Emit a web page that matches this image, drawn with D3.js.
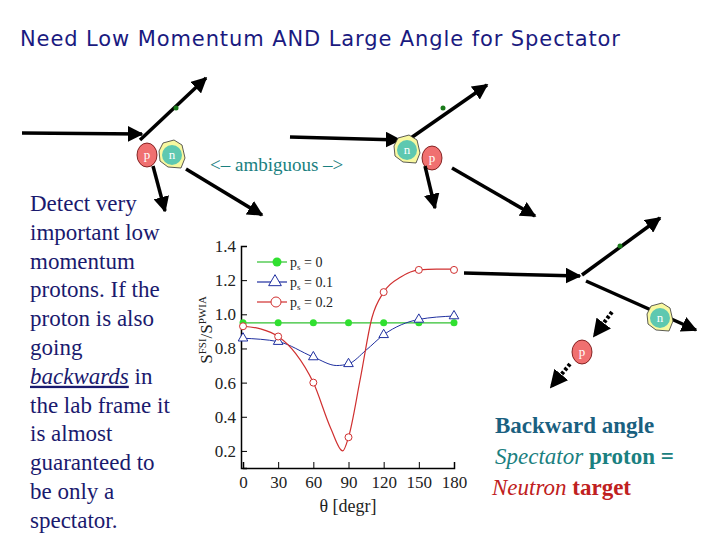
<!DOCTYPE html><html><head><meta charset="utf-8"><script src="https://cdn.jsdelivr.net/npm/d3@7"></script>
<style>body{margin:0;background:#fff} .sf{font-family:'Liberation Serif','Times New Roman',serif !important}</style></head><body><svg id="s" width="720" height="540"></svg><script>
const thetaTicks=[0,30,60,90,120,150,180];
const yTicks=[0.2,0.4,0.6,0.8,1.0,1.2,1.4];
const markTheta=[0,30,60,90,120,150,180];
const green=[0.95,0.95,0.95,0.95,0.95,0.95,0.95];
const blueMarks=[0.86,0.84,0.75,0.71,0.88,0.97,0.99];
const redMarks=[0.93,0.87,0.60,0.28,1.13,1.26,1.26];
const blueCurveT=[0,30,60,80,90,105,120,150,180];
const blueCurveV=[0.86,0.84,0.75,0.70,0.71,0.79,0.88,0.97,0.99];
const redCurveT=[0,15,30,45,60,75,85,90,100,110,120,135,150,165,180];
const redCurveV=[0.93,0.915,0.87,0.77,0.60,0.33,0.20,0.28,0.62,0.98,1.13,1.22,1.26,1.265,1.265];
const legendLabels=["0","0.1"," 0.2"];
const SERIF="'Liberation Serif','Times New Roman',serif";

const svg=d3.select("#s");
const defs=svg.append("defs");
defs.append("marker").attr("id","ah").attr("viewBox","0 0 10 10").attr("refX",9).attr("refY",5)
 .attr("markerWidth",4.5).attr("markerHeight",4.5).attr("orient","auto")
 .append("path").attr("d","M0,0L10,5L0,10z").attr("fill","#000");
svg.append("text").attr("x",20).attr("y",46).attr("font-family","DejaVu Sans").attr("font-size",21)
 .attr("fill","#1a1a80").attr("textLength",600).text("Need Low Momentum AND Large Angle for Spectator");

function arrow(x1,y1,x2,y2,dash){svg.append("line").attr("x1",x1).attr("y1",y1).attr("x2",x2).attr("y2",y2)
 .attr("stroke","#000").attr("stroke-width",dash?4:3.5).attr("stroke-dasharray",dash?"3,2":null).attr("marker-end","url(#ah)");}
function dot(x,y){svg.append("circle").attr("cx",x).attr("cy",y).attr("r",2.5).attr("fill","#1a7a1a");}
function nuc(x,y,lab,isP){
 if(!isP){svg.append("path").attr("d",`M${x-9},${y-12}L${x+2},${y-15}L${x+10},${y-10}L${x+13},${y+3}L${x+9},${y+13}L${x-4},${y+12}L${x-12},${y+6}L${x-13},${y-4}Z`)
  .attr("fill","#f8f8a0").attr("stroke","#333").attr("stroke-width",0.8);
  svg.append("circle").attr("cx",x).attr("cy",y).attr("r",10).attr("fill","#5ec8b0");}
 else svg.append("ellipse").attr("cx",x).attr("cy",y).attr("rx",10).attr("ry",12).attr("fill","#f07070").attr("stroke","#600").attr("stroke-width",0.8);
 svg.append("text").attr("class","sf").attr("x",x).attr("y",y+4).attr("text-anchor","middle").attr("fill","#fff").attr("font-size",13).text(lab);}
arrow(22,133,142,134);arrow(140,140,206,78);dot(176,108);
nuc(172,155,"n",false);nuc(147,155,"p",true);
arrow(153,166,165,211);arrow(186,169,262,215);
arrow(290,137,400,140);arrow(408,140,487,85);dot(443,108);
nuc(407,150,"n",false);nuc(432,158,"p",true);
arrow(425,166,435,208);arrow(452,168,535,216);
svg.append("text").attr("class","sf").attr("x",210).attr("y",171).attr("font-size",19).attr("fill","#1a8080").text("<– ambiguous –>");
arrow(464,273,580,276);arrow(582,275,660,218);dot(620,246);
arrow(586,281,696,330);nuc(660,318,"n",false);
nuc(582,352,"p",true);
arrow(612,312,594,336,true);arrow(570,364,551,387,true);
const lines=["Detect very","important low","momentum","protons. If the","proton is also","going",null,"the lab frame it","is almost","guaranteed to","be only a","spectator."];
lines.forEach((l,i)=>{const y=211+i*28.8;
 const lt=svg.append("text").attr("class","sf").attr("x",30).attr("y",y).attr("font-size",23).attr("fill","#1a1a6e");
 if(l===null){lt.append("tspan").attr("class","sf").attr("font-style","italic").attr("text-decoration","underline").text("backwards");lt.append("tspan").attr("class","sf").text(" in");}
 else lt.text(l);});
const rt=svg.append("text").attr("class","sf").attr("font-size",23);
rt.append("tspan").attr("x",495).attr("y",433).attr("font-weight","bold").attr("fill","#1a6080").text("Backward angle");
rt.append("tspan").attr("x",495).attr("y",464).attr("font-style","italic").attr("fill","#1a8080").text("Spectator");
rt.append("tspan").attr("font-weight","bold").attr("fill","#1a8080").text(" proton =");
rt.append("tspan").attr("x",492).attr("y",495).attr("font-style","italic").attr("fill","#c02020").text("Neutron");
rt.append("tspan").attr("font-weight","bold").attr("fill","#c02020").text(" target");
const x=d3.scaleLinear().domain([0,180]).range([243,454]);
const y=d3.scaleLinear().domain([0.1,1.4]).range([468,246]);
const g=svg.append("g");
g.append("g").attr("transform","translate(0,468)").call(d3.axisBottom(x).tickValues(thetaTicks).tickSize(-6).tickPadding(8))
 .call(a=>{a.select(".domain").attr("stroke-width",1.5);a.selectAll("text").attr("class","sf").attr("font-size",17).attr("fill","#222");});
g.append("g").attr("transform","translate(241,0)").call(d3.axisLeft(y).tickValues(yTicks).tickSize(-6).tickPadding(5).tickFormat(d3.format(".1f")))
 .call(a=>{a.select(".domain").attr("stroke-width",1.5);a.selectAll("text").attr("class","sf").attr("font-size",17).attr("fill","#222");});
svg.append("text").attr("class","sf").attr("x",348).attr("y",512).attr("text-anchor","middle").attr("font-size",18).attr("fill","#222").text("θ [degr]");
const yl=svg.append("text").attr("class","sf").attr("transform","translate(212,330) rotate(-90)").attr("text-anchor","middle").attr("font-size",17).attr("fill","#222");
yl.append("tspan").text("S");yl.append("tspan").attr("font-size",11).attr("dy",-6).text("FSI");
yl.append("tspan").attr("dy",6).text("/S");yl.append("tspan").attr("font-size",11).attr("dy",-6).text("PWIA");
const line=d3.line().x(d=>x(d[0])).y(d=>y(d[1])).curve(d3.curveMonotoneX);
g.append("path").attr("d",line(markTheta.map((t,i)=>[t,green[i]]))).attr("fill","none").attr("stroke","#30c030").attr("stroke-width",1.2);
g.append("path").attr("d",line(blueCurveT.map((t,i)=>[t,blueCurveV[i]]))).attr("fill","none").attr("stroke","#2030a0").attr("stroke-width",1);
g.append("path").attr("d",line(redCurveT.map((t,i)=>[t,redCurveV[i]]))).attr("fill","none").attr("stroke","#d03030").attr("stroke-width",1.2);
markTheta.forEach((t,i)=>{
 g.append("circle").attr("cx",x(t)).attr("cy",y(green[i])).attr("r",3.5).attr("fill","#30e030");
 g.append("path").attr("d",d3.symbol(d3.symbolTriangle,40)()).attr("transform",`translate(${x(t)},${y(blueMarks[i])})`).attr("fill","#fff").attr("stroke","#2030a0");
 g.append("circle").attr("cx",x(t)).attr("cy",y(redMarks[i])).attr("r",3.5).attr("fill","#fff").attr("stroke","#d03030");
});
const cols=["#30c030","#2030a0","#d03030"];
legendLabels.forEach((l,i)=>{const ly=262+i*20;
 g.append("line").attr("x1",257).attr("x2",287).attr("y1",ly).attr("y2",ly).attr("stroke",cols[i]).attr("stroke-width",1.2);
 if(i===0)g.append("circle").attr("cx",277).attr("cy",ly).attr("r",4.5).attr("fill","#30e030");
 else if(i===1)g.append("path").attr("d",d3.symbol(d3.symbolTriangle,70)()).attr("transform",`translate(275,${ly})`).attr("fill","#fff").attr("stroke",cols[i]);
 else g.append("circle").attr("cx",276).attr("cy",ly).attr("r",5).attr("fill","#fff").attr("stroke",cols[i]);
 const t=g.append("text").attr("class","sf").attr("x",290).attr("y",ly+5).attr("font-size",14).attr("fill","#222");
 t.append("tspan").text("p");t.append("tspan").attr("font-size",9).attr("dy",3).text("s");t.append("tspan").attr("dy",-3).text(" = "+l);
});
</script></body></html>
